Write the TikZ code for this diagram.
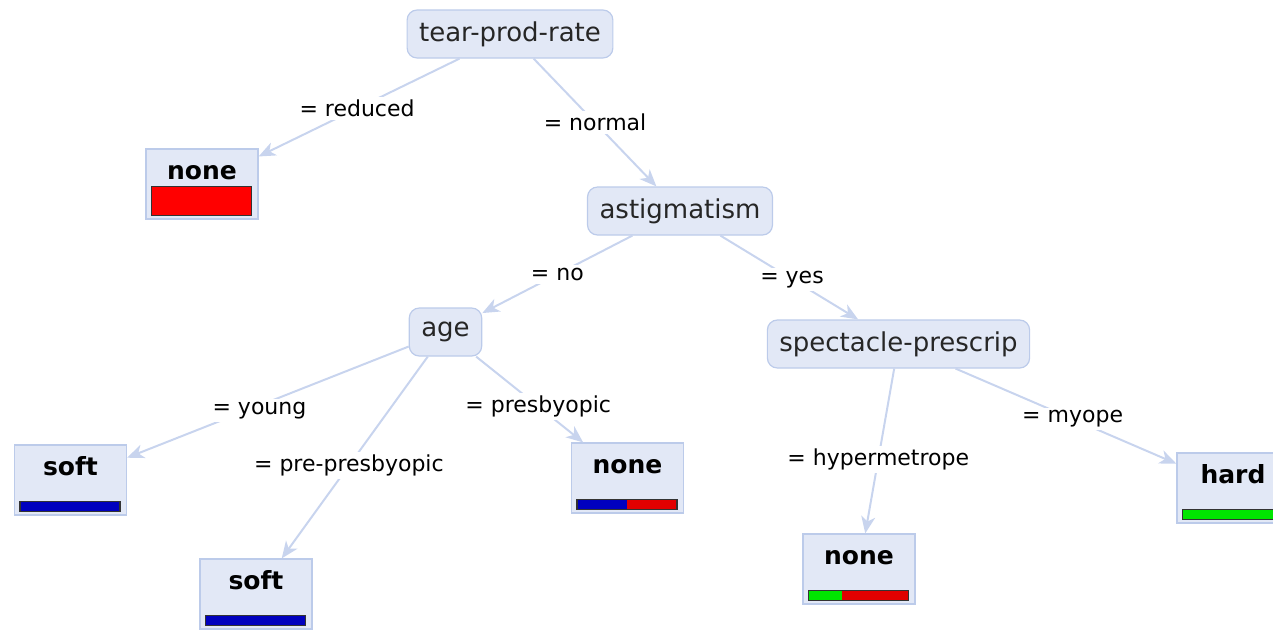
\documentclass[tikz,border=0pt]{standalone}
\usepackage{fontspec}
\setmainfont{DejaVu Sans}
\usepackage{xcolor}
\usetikzlibrary{arrows.meta, calc}
\definecolor{nodefill}  {RGB}{226, 232, 246}
\definecolor{nodeedge}  {RGB}{188, 203, 234}
\definecolor{edgeblue}  {RGB}{200, 212, 238}
\definecolor{classred}  {RGB}{225, 0,   0}
\definecolor{classblue} {RGB}{0,   0,   190}
\definecolor{classgreen}{RGB}{0,   230, 0}
\tikzset{
  splitnode/.style={
    draw=nodeedge, fill=nodefill, rounded corners=5pt,
    minimum height=24pt, inner xsep=6pt, line width=0.6pt,
    font=\fontsize{13}{15}\selectfont, text=black!85
  },
  leafnode/.style={
    draw=nodeedge, fill=nodefill, line width=0.6pt,
    text width=56pt, align=center, inner sep=0pt,
    text height=15pt, text depth=20pt,
    font=\fontsize{12.5}{14}\selectfont\bfseries
  },
  treearrow/.style={
    -{Stealth[length=8.5pt, width=7pt, inset=2.5pt]}, line width=1pt,
    color=edgeblue
  },
  edgelabel/.style={
    fill=white, inner sep=1.5pt, text=black,
    font=\fontsize{11}{13}\selectfont
  },
  barline/.style={draw=black!80, line width=0.7pt},
}
% class distribution bar of a leaf: node, bar top above the box bottom,
% first colour, its share, second colour
\newcommand{\leafbar}[5]{%
  \path ([shift={(3pt,2pt)}]#1.south west) coordinate (#1-bl)
        ([shift={(-3.5pt,#2)}]#1.south east) coordinate (#1-tr);
  \fill[#3] (#1-bl) rectangle ($(#1-bl|-#1-tr)!#4!(#1-tr)$);
  \fill[#5] ($(#1-bl)!#4!(#1-bl-|#1-tr)$) rectangle (#1-tr);
  \draw[barline] (#1-bl) rectangle (#1-tr);
}

\begin{document}
\begin{tikzpicture}[x=0.5pt, y=-0.5pt]
  \useasboundingbox (0,0) rectangle (1273,629);
  \clip (0,0) rectangle (1273,629);

  % inner nodes
  \node[splitnode] (tear)  at (510,34)    {tear-prod-rate};
  \node[splitnode] (astig) at (680,211)   {astigmatism};
  \node[splitnode] (age)   at (445.5,332) {age};
  \node[splitnode] (spec)  at (898.5,344) {spectacle-prescrip};

  % leaves
  \node[leafnode] (none1) at (202,184)   {none};
  \node[leafnode] (soft1) at (70.5,480)  {soft};
  \node[leafnode] (soft2) at (256,594)   {soft};
  \node[leafnode] (none2) at (627.5,478) {none};
  \node[leafnode] (none3) at (859,569)   {none};
  \node[leafnode] (hard)  at (1233,488)  {hard};

  \leafbar{none1}{16.5pt}{red}{1}{red}
  \leafbar{soft1}{7pt}{classblue}{1}{classblue}
  \leafbar{soft2}{7pt}{classblue}{1}{classblue}
  \leafbar{none2}{7pt}{classblue}{0.5}{classred}
  \leafbar{none3}{7pt}{classgreen}{0.34}{classred}
  \leafbar{hard}{7pt}{classgreen}{1}{classgreen}

  % branches
  \draw[treearrow] (tear)  -- node[edgelabel, pos=0.51] {= reduced} (none1);
  \draw[treearrow] (tear)  -- node[edgelabel] {= normal} (astig);
  \draw[treearrow] (astig) -- node[edgelabel] {= no} (age);
  \draw[treearrow] (astig) -- node[edgelabel, pos=0.52] {= yes} (spec);
  \draw[treearrow] (age)   -- node[edgelabel, pos=0.53, yshift=-2.5pt] {= young} (soft1);
  \draw[treearrow] (age)   -- node[edgelabel, pos=0.54] {= pre-presbyopic} (soft2);
  \draw[treearrow] (age)   -- node[edgelabel, pos=0.58] {= presbyopic} (none2);
  \draw[treearrow] (spec)  -- node[edgelabel, pos=0.55] {= hypermetrope} (none3);
  \draw[treearrow] (spec)  -- node[edgelabel, pos=0.53] {= myope} (hard);
\end{tikzpicture}
\end{document}
